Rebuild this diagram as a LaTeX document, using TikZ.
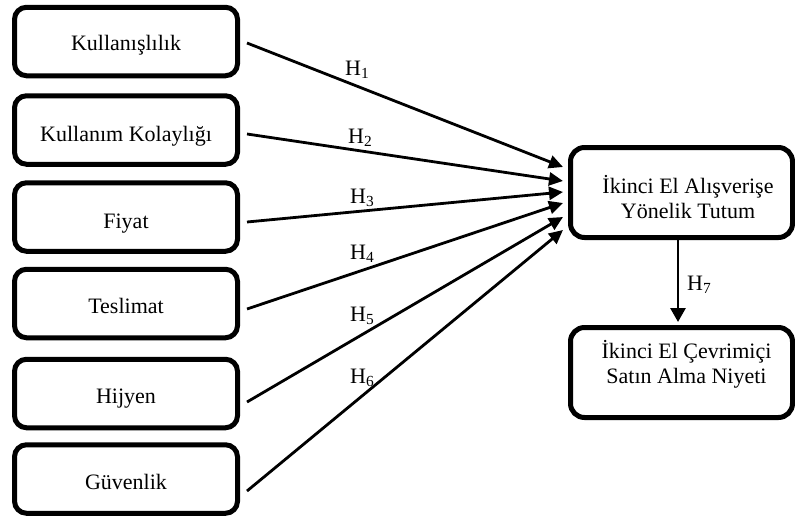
\documentclass[tikz,border=0pt]{standalone}
\usepackage{fontspec}
\setmainfont{Liberation Serif}
\usetikzlibrary{arrows.meta}
\begin{document}
\begin{tikzpicture}[x=1pt,y=-1pt,
  box/.style={draw=black, line width=5pt, rounded corners=12pt, minimum width=223pt, minimum height=68.5pt, inner sep=0pt},
  rbox/.style={draw=black, line width=5pt, rounded corners=14pt, minimum width=222pt, minimum height=90pt, inner sep=0pt},
  txt/.style={font=\fontsize{22}{26}\selectfont, anchor=base, inner sep=0pt},
  hyp/.style={font=\fontsize{22}{26}\selectfont, anchor=base west, inner sep=0pt},
  arr/.style={line width=2.8pt, -{Triangle[length=14pt,width=13pt]}},
  varr/.style={line width=2.8pt, -{Triangle[length=14pt,width=15pt]}},
]
\useasboundingbox[fill=white] (0,0) rectangle (795,522);

% left boxes
\node[box] (k1) at (126,41.5) {};
\node[box] (k2) at (126,130) {};
\node[box] (k3) at (126,217) {};
\node[box] (k4) at (126,303.5) {};
\node[box] (k5) at (126,393.5) {};
\node[box] (k6) at (126,479) {};

\node[txt] (k1t) at (126,50) {Kullanışlılık};
\node[txt] (k2t) at (126,141) {Kullanım Kolaylığı};
\node[txt] (k3t) at (126,228) {Fiyat};
\node[txt] (k4t) at (126,313) {Teslimat};
\node[txt] (k5t) at (126,403) {Hijyen};
\node[txt] (k6t) at (126,489) {Güvenlik};

% right boxes
\node[rbox] (t) at (681.5,192.5) {};
\node[rbox] (n) at (681.5,372.5) {};
\node[txt] (t1) at (688,193) {İkinci El Alışverişe};
\node[txt] (t2) at (688,218) {Yönelik Tutum};
\node[txt] (n1) at (686.5,358) {İkinci El Çevrimiçi};
\node[txt] (n2) at (686.5,383) {Satın Alma Niyeti};

% arrows
\draw[arr] ([xshift=7pt,yshift=-1.5pt]k1.east) -- ([xshift=-5pt,yshift=25.5pt]t.west);
\draw[arr] ([xshift=7pt,yshift=-4pt]k2.east) -- ([xshift=-5pt,yshift=11.5pt]t.west);
\draw[arr] ([xshift=7pt,yshift=-5pt]k3.east) -- ([xshift=-5pt,yshift=0.5pt]t.west);
\draw[arr] ([xshift=7pt,yshift=-5.5pt]k4.east) -- ([xshift=-5pt,yshift=-10.5pt]t.west);
\draw[arr] ([xshift=7pt,yshift=-8.5pt]k5.east) -- ([xshift=-5pt,yshift=-24.5pt]t.west);
\draw[arr] ([xshift=7pt,yshift=-12pt]k6.east) -- ([xshift=-5pt,yshift=-37.5pt]t.west);
\draw[varr] ([xshift=-3.5pt]t.south) -- ([xshift=-3.5pt,yshift=3pt]n.north);

% hypothesis labels
\node[hyp] (h1) at (345,75) {H\textsubscript{1}};
\node[hyp] (h2) at (348,143) {H\textsubscript{2}};
\node[hyp] (h3) at (350,203) {H\textsubscript{3}};
\node[hyp] (h4) at (350,259) {H\textsubscript{4}};
\node[hyp] (h5) at (350,321) {H\textsubscript{5}};
\node[hyp] (h6) at (350,383) {H\textsubscript{6}};
\node[hyp] (h7) at (687,290) {H\textsubscript{7}};
\end{tikzpicture}
\end{document}
